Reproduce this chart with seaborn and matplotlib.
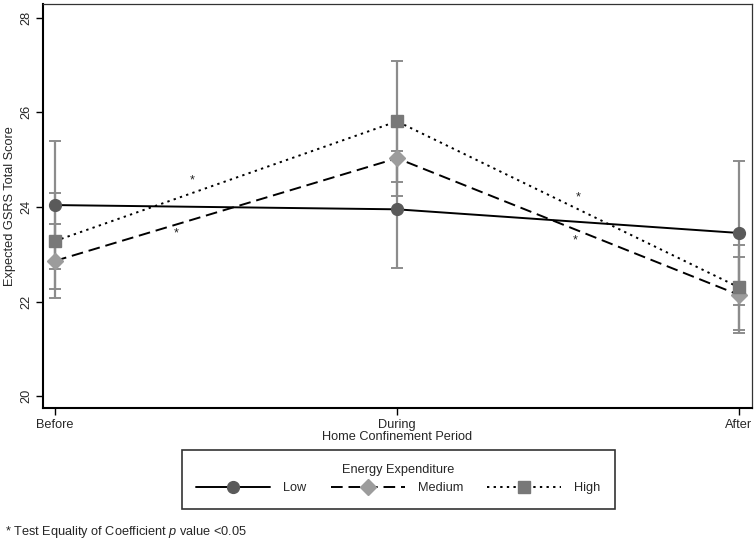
import numpy as np
import pandas as pd
import matplotlib
matplotlib.use('Agg')
import matplotlib.pyplot as plt
from matplotlib.lines import Line2D
import seaborn as sns

sns.set_style('white')
plt.rcParams['font.family'] = ['Liberation Sans', 'DejaVu Sans']
plt.rcParams['mathtext.fontset'] = 'custom'
plt.rcParams['mathtext.rm'] = 'Liberation Sans'
plt.rcParams['mathtext.it'] = 'Liberation Sans:italic'

# 데이터
periods = ['Before', 'During', 'After']
groups = ['Low', 'Medium', 'High']
low_mean = [24.04, 23.95, 23.45]
low_err = [1.36, 1.23, 1.53]
medium_mean = [22.86, 25.03, 22.14]
medium_err = [0.78, 0.80, 0.80]
high_mean = [23.28, 25.81, 22.30]
high_err = [1.02, 1.28, 0.90]

# 유의성 표시 위치 (x 위치, y 값)
star_x = [0.40, 0.355, 1.53, 1.52]
star_y = [24.57, 23.45, 24.20, 23.30]

means = {'Low': low_mean, 'Medium': medium_mean, 'High': high_mean}
errs = {'Low': low_err, 'Medium': medium_err, 'High': high_err}

rows = []
for g in groups:
    for i, p in enumerate(periods):
        rows.append({'group': g, 'pos': i, 'period': p,
                     'score': means[g][i], 'err': errs[g][i]})
df = pd.DataFrame(rows)

marker_colors = {'Low': '#5a5a5a', 'Medium': '#9c9c9c', 'High': '#787878'}
marker_shapes = {'Low': 'o', 'Medium': 'D', 'High': 's'}
marker_sizes = {'Low': 8.5, 'Medium': 8, 'High': 8}
line_dashes = {'Low': '', 'Medium': (6, 3), 'High': (1.2, 2.2)}
fs = 9.2

fig = plt.figure(figsize=(7.56, 5.44), dpi=100)
ax = fig.add_axes([0.057, 0.25, 0.9377, 0.7426])

# 오차 막대
for g in groups:
    sub = df[df['group'] == g]
    ax.errorbar(sub['pos'], sub['score'], yerr=sub['err'], fmt='none',
                ecolor='#8c8c8c', elinewidth=1.6, capsize=4, capthick=1.4, zorder=2)

# 선
sns.lineplot(data=df, x='pos', y='score', style='group', dashes=line_dashes,
             color='black', linewidth=1.4, legend=False, ax=ax, zorder=3,
             estimator=None, errorbar=None)

# 마커
for g in groups:
    sub = df[df['group'] == g]
    ax.plot(sub['pos'], sub['score'], linestyle='none', marker=marker_shapes[g],
            markersize=marker_sizes[g], markerfacecolor=marker_colors[g],
            markeredgecolor=marker_colors[g], zorder=4)

for sx, sy in zip(star_x, star_y):
    ax.text(sx, sy, '*', ha='center', va='center', fontsize=fs, color='#222222')

ax.set_xlim(-0.035, 2.038)
ax.set_ylim(19.75, 28.29)
ax.set_xticks([0, 1, 2])
ax.set_xticklabels(periods, fontsize=fs)
ax.set_yticks([20, 22, 24, 26, 28])
ax.set_yticklabels(['20', '22', '24', '26', '28'], fontsize=fs, rotation=90, va='center')
ax.set_xlabel('Home Confinement Period', fontsize=fs, labelpad=0)
ax.set_ylabel('Expected GSRS Total Score', fontsize=fs, labelpad=3)
ax.tick_params(axis='both', which='both', length=5, width=1, color='black',
               direction='out', bottom=True, left=True, pad=3)

for side in ['left', 'bottom']:
    ax.spines[side].set_color('black')
    ax.spines[side].set_linewidth(1.5)
for side in ['top', 'right']:
    ax.spines[side].set_color('#333333')
    ax.spines[side].set_linewidth(0.9)

handles = []
for g in groups:
    handles.append(Line2D([0], [0], color='black', linewidth=1.4,
                          linestyle='-' if g == 'Low' else ((0, line_dashes[g])),
                          marker=marker_shapes[g], markersize=marker_sizes[g],
                          markerfacecolor=marker_colors[g],
                          markeredgecolor=marker_colors[g]))
leg = fig.legend(handles, groups, title='Energy Expenditure', ncol=3,
                 loc='center', bbox_to_anchor=(0.527, 0.119), fontsize=fs,
                 title_fontsize=fs, handlelength=5.8, columnspacing=1.9,
                 handletextpad=1.0, frameon=True, fancybox=False,
                 borderpad=1.1, edgecolor='black')
leg.get_frame().set_linewidth(1.2)

fig.text(0.007, 0.022, '* Test Equality of Coefficient $\\mathit{p}$ value <0.05',
         fontsize=fs, ha='left', va='center')

fig.savefig('out.png', dpi=100)
